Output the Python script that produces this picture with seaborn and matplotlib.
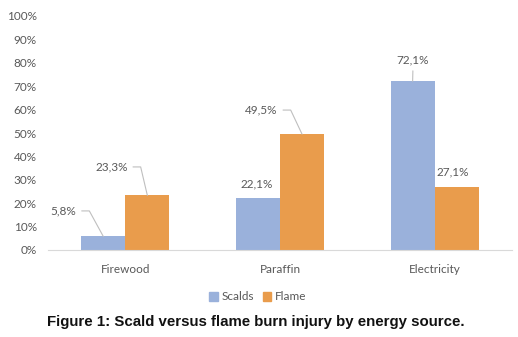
import numpy as np
import pandas as pd
import seaborn as sns
import matplotlib.pyplot as plt

sources = ['Firewood', 'Paraffin', 'Electricity']
scalds = [0.058, 0.221, 0.721]
flame = [0.233, 0.495, 0.271]
series = ['Scalds', 'Flame']
colors = ['#9AB1DB', '#E99C4C']

df = pd.DataFrame({
    'source': sources * 2,
    'value': scalds + flame,
    'type': ['Scalds'] * 3 + ['Flame'] * 3,
})

sns.set_style('white')
plt.rcParams['font.family'] = ['Lato', 'DejaVu Sans']
grey = '#595959'

fig = plt.figure(figsize=(5.18, 3.37), dpi=100)
ax = fig.add_axes([48 / 518, 1 - 250 / 337, 464 / 518, 234 / 337])

sns.barplot(data=df, x='source', y='value', hue='type', hue_order=series,
            palette=colors, width=0.57, saturation=1, linewidth=0,
            ax=ax, legend=False)

ax.set_xlim(-0.5, 2.5)
ax.set_ylim(0, 1)
ticks = np.arange(0, 1.01, 0.1)
ax.set_yticks(ticks)
ax.set_yticklabels([f'{int(round(t * 100))}%' for t in ticks])
ax.set_xlabel('')
ax.set_ylabel('')
ax.tick_params(axis='both', length=0, labelsize=8.5, labelcolor=grey)
ax.tick_params(axis='x', pad=10)
ax.tick_params(axis='y', pad=8)
for s in ['top', 'right', 'left']:
    ax.spines[s].set_visible(False)
ax.spines['bottom'].set_color('#D9D9D9')
ax.spines['bottom'].set_linewidth(0.8)

# data labels: (text x, text y, leader line style)
label_pos = [
    [(-0.40, 0.167, 'bent'), (0.85, 0.282, None), (1.86, 0.812, 'v')],
    [(-0.09, 0.355, 'bent'), (0.88, 0.598, 'bent'), (2.12, 0.333, None)],
]
bw = 0.57 / 2
for i, vals in enumerate([scalds, flame]):
    for j, v in enumerate(vals):
        bx = j - bw / 2 + i * bw
        tx, ty, line = label_pos[i][j]
        txt = f'{v * 100:.1f}%'.replace('.', ',')
        if line == 'bent':
            ax.annotate(txt, xy=(bx, v), xytext=(tx, ty), ha='center', va='center',
                        fontsize=8.5, color=grey,
                        arrowprops=dict(arrowstyle='-', color='#BFBFBF', lw=0.8,
                                        relpos=(1, 0.5), shrinkA=1.5, shrinkB=0,
                                        connectionstyle='arc,angleA=0,angleB=0,armA=13,armB=0,rad=0'))
        elif line == 'v':
            ax.annotate(txt, xy=(bx, v), xytext=(tx, ty), ha='center', va='center',
                        fontsize=8.5, color=grey,
                        arrowprops=dict(arrowstyle='-', color='#BFBFBF', lw=0.8,
                                        relpos=(0.5, 0), shrinkA=1.5, shrinkB=0))
        else:
            ax.text(tx, ty, txt, ha='center', va='center', fontsize=8.5, color=grey)

handles = [plt.Rectangle((0, 0), 1, 1, color=c) for c in colors]
fig.legend(handles, series, loc='center', bbox_to_anchor=(258 / 518, 1 - 297 / 337),
           ncol=2, frameon=False, fontsize=8.5, labelcolor=grey,
           handlelength=0.7, handleheight=0.7, handletextpad=0.3, columnspacing=0.8)

fig.text(256 / 518, 1 - 322 / 337,
         'Figure 1: Scald versus flame burn injury by energy source.',
         ha='center', va='center', fontsize=10.8, fontweight='bold',
         family=['Liberation Sans', 'DejaVu Sans'], color='#111111')

fig.savefig('out.png', dpi=100)
